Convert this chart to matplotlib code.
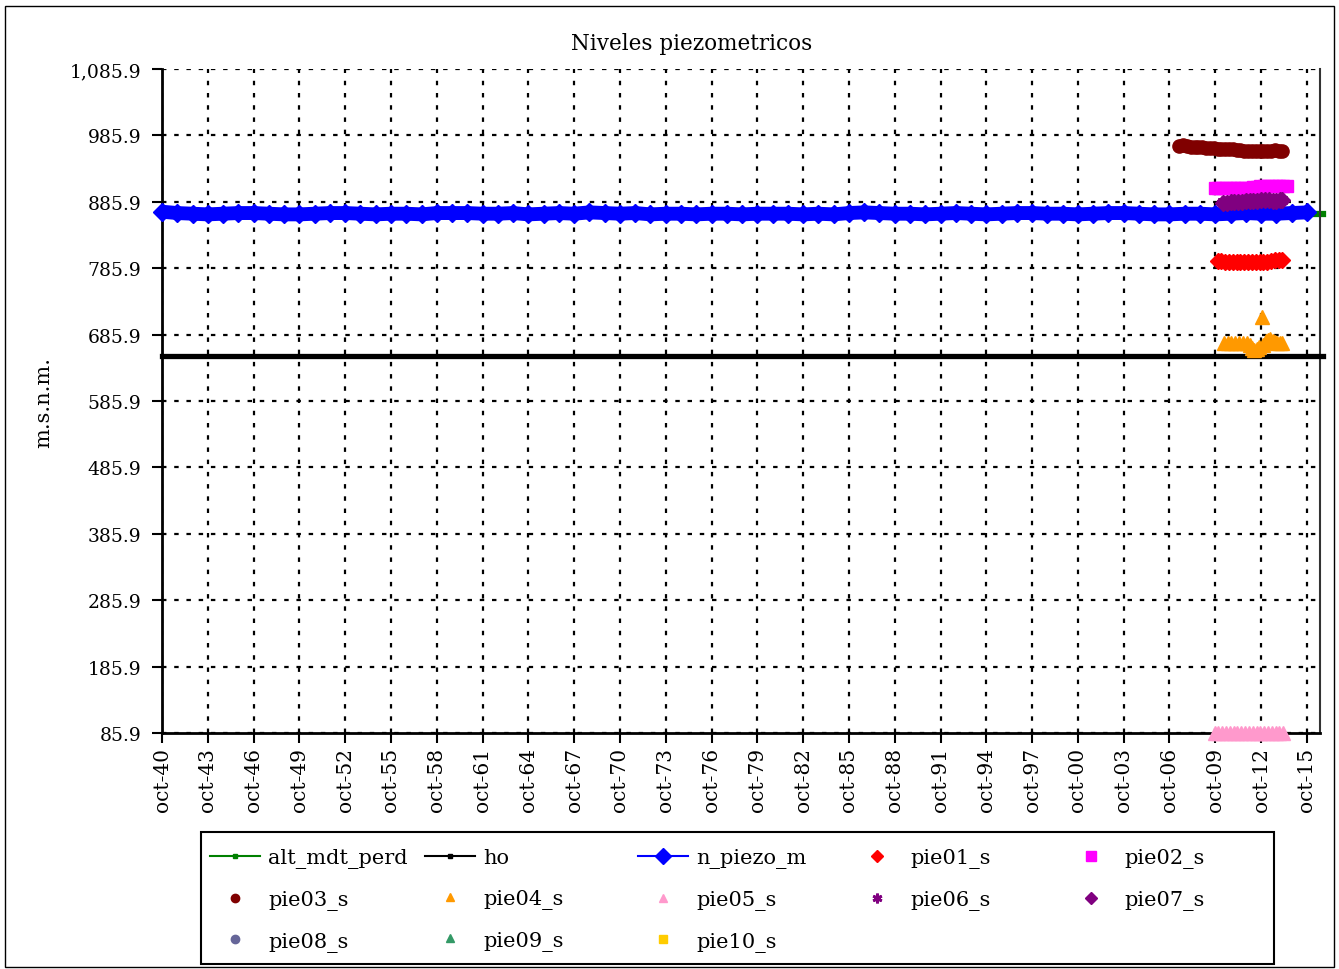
import numpy as np
import matplotlib
matplotlib.use("Agg")
import matplotlib.pyplot as plt
from matplotlib.lines import Line2D
from matplotlib.patches import Rectangle
from matplotlib.ticker import FuncFormatter

plt.rcParams["font.family"] = ["DejaVu Serif"]

# ---- data (x in decimal years) ----
piezo_years = [1940.75 + i for i in range(76)]
n_piezo_m = [871, 869, 868, 867, 868, 869, 869, 868, 867, 867,
             868, 869, 869, 868, 867, 868, 868, 867, 869, 869,
             869, 868, 868, 869, 867, 868, 869, 868, 870, 869,
             868, 869, 867, 868, 868, 867, 868, 868, 867, 868,
             868, 868, 867, 868, 867, 869, 870, 869, 868, 868,
             867, 868, 869, 868, 867, 868, 869, 869, 868, 868,
             867, 868, 869, 869, 868, 867, 867, 868, 868, 867,
             868, 869, 868, 868, 869, 870]

alt_x = [1940.75, 2016.8]
alt_mdt_perd = [868, 868]

ho_x = [1940.75, 2016.8]
ho = [654, 654]

pie03_x = [2007.4, 2007.65, 2007.9, 2008.15, 2008.4, 2008.65, 2008.9, 2009.15,
           2009.4, 2009.65, 2009.9, 2010.15, 2010.4, 2010.65, 2010.9, 2011.15,
           2011.4, 2011.65, 2011.9, 2012.15, 2012.4, 2012.65, 2012.9, 2013.15,
           2013.4, 2013.65, 2013.9, 2014.15]
pie03_s = [970, 971, 970, 969, 969, 968, 968, 967, 967, 967, 966, 966, 966, 965,
           965, 964, 964, 963, 963, 963, 963, 962, 963, 963, 963, 964, 963, 962]

pie02_x = [2009.7, 2009.95, 2010.2, 2010.45, 2010.7, 2010.95, 2011.2, 2011.45,
           2011.7, 2011.95, 2012.2, 2012.45, 2012.7, 2012.95, 2013.2, 2013.45,
           2013.7, 2013.95, 2014.2, 2014.45]
pie02_s = [907, 907, 907, 907, 907, 907, 907, 907, 907, 907,
           908, 908, 910, 910, 910, 910, 910, 910, 910, 910]

pie67_x = [2010.25, 2010.5, 2010.75, 2011.0, 2011.25, 2011.5, 2011.75, 2012.0,
           2012.25, 2012.5, 2012.75, 2013.0, 2013.25, 2013.5, 2013.75, 2014.0, 2014.15]
pie06_s = [885, 885, 886, 886, 887, 887, 888, 888, 888, 888, 888, 888, 888, 888, 888, 889, 889]
pie07_s = [884, 884, 885, 885, 886, 886, 887, 887, 887, 887, 888, 888, 888, 887, 887, 888, 888]

pie01_x = [2009.9, 2010.15, 2010.4, 2010.65, 2010.9, 2011.15, 2011.4, 2011.65, 2011.9,
           2012.15, 2012.4, 2012.65, 2012.9, 2013.15, 2013.4, 2013.65, 2013.9, 2014.15]
pie01_s = [797, 797, 796, 795, 795, 795, 795, 795, 795,
           795, 795, 795, 796, 796, 797, 798, 798, 798]

pie04_x = [2010.3, 2010.55, 2010.8, 2011.05, 2011.3, 2011.55, 2011.8, 2012.0, 2012.15,
           2012.3, 2012.45, 2012.6, 2012.8, 2012.9, 2013.05, 2013.2, 2013.35, 2013.5,
           2013.65, 2013.8, 2014.0, 2014.15]
pie04_s = [674, 674, 674, 674, 674, 674, 673, 670, 666, 662, 664, 667, 712, 671,
           676, 678, 679, 676, 675, 674, 674, 674]

pie05_x = [2009.7, 2009.95, 2010.2, 2010.45, 2010.7, 2010.95, 2011.2, 2011.45, 2011.7,
           2011.95, 2012.2, 2012.45, 2012.7, 2012.95, 2013.2, 2013.45, 2013.7, 2013.95, 2014.2]
pie05_s = [86, 86, 86, 86, 86, 86, 86, 86, 86, 86, 86, 86, 86, 86, 86, 86, 86, 86, 86]

y_ticks = [85.9 + 100 * i for i in range(11)]
x_ticks = [1940.75 + 3 * i for i in range(26)]
x_labels = ["oct-%02d" % ((1940 + 3 * i) % 100) for i in range(26)]

# ---- figure ----
fig = plt.figure(figsize=(13.39, 9.70), dpi=100)
ax = fig.add_axes([0.121, 0.2433, 0.8647, 0.6845])

ax.plot(alt_x, alt_mdt_perd, color="#008000", lw=4.5, zorder=2, clip_on=False)
ax.plot(ho_x, ho, color="black", lw=3.8, zorder=3, clip_on=False)
ax.plot(piezo_years, n_piezo_m, color="#0000FF", lw=10, marker="D", ms=9,
        solid_capstyle="butt", zorder=4, clip_on=False)

ax.plot(pie03_x, pie03_s, ls="none", marker="o", ms=9.5, color="#800000", zorder=5)
ax.plot(pie02_x, pie02_s, ls="none", marker="s", ms=9, color="#FF00FF", zorder=5)
ax.plot(pie67_x, pie07_s, ls="none", marker="D", ms=8, color="#800080", zorder=5)
ax.plot(pie67_x, pie06_s, ls="none", marker=(6, 2, 0), ms=9, mew=2.5, color="#800080", zorder=5)
ax.plot(pie01_x, pie01_s, ls="none", marker="D", ms=8.5, color="#FF0000", zorder=5)
ax.plot(pie04_x, pie04_s, ls="none", marker="^", ms=10, color="#FF9900", zorder=6, clip_on=False)
ax.plot(pie05_x, pie05_s, ls="none", marker="^", ms=10, color="#FF99CC", zorder=6, clip_on=False)

ax.set_xlim(1940.75, 2016.6)
ax.set_ylim(85.9, 1085.9)
ax.set_yticks(y_ticks)
ax.yaxis.set_major_formatter(FuncFormatter(lambda v, p: "{:,.1f}".format(v)))
ax.set_xticks(x_ticks)
ax.set_xticklabels(x_labels, rotation=90)
ax.tick_params(axis="both", direction="out", width=1.5, color="black")
ax.tick_params(axis="y", length=7, pad=8, labelsize=13.5)
ax.tick_params(axis="x", length=7, pad=3, labelsize=14.5)

ax.grid(True, color="black", lw=1.6, ls=(0, (2, 3.5)))
ax.set_axisbelow(True)
ax.spines["top"].set_visible(False)
ax.spines["left"].set_linewidth(2)
ax.spines["bottom"].set_linewidth(2)
ax.spines["right"].set_linewidth(1.5)
ax.spines["right"].set_color("#333333")

fig.text(692 / 1339, 1 - 44 / 970, "Niveles piezometricos", fontsize=15.5,
         ha="center", va="center")
ax.set_ylabel("m.s.n.m.", fontsize=15)
ax.yaxis.set_label_coords(-0.094, 0.5)

# ---- legend, one block per column ----
def lh(**kw):
    return Line2D([], [], **kw)

columns = [
    [(lh(color="#008000", lw=1.5, marker="s", ms=3), "alt_mdt_perd"),
     (lh(ls="none", marker="o", ms=6, color="#800000"), "pie03_s"),
     (lh(ls="none", marker="o", ms=6, color="#666699"), "pie08_s")],
    [(lh(color="black", lw=1.5, marker="s", ms=3), "ho"),
     (lh(ls="none", marker="^", ms=6, color="#FF9900"), "pie04_s"),
     (lh(ls="none", marker="^", ms=6, color="#339966"), "pie09_s")],
    [(lh(color="#0000FF", lw=1.5, marker="D", ms=8), "n_piezo_m"),
     (lh(ls="none", marker="^", ms=6, color="#FF99CC"), "pie05_s"),
     (lh(ls="none", marker="s", ms=6, color="#FFCC00"), "pie10_s")],
    [(lh(ls="none", marker="D", ms=6, color="#FF0000"), "pie01_s"),
     (lh(ls="none", marker=(6, 2, 0), ms=7, mew=2, color="#800080"), "pie06_s")],
    [(lh(ls="none", marker="s", ms=7, color="#FF00FF"), "pie02_s"),
     (lh(ls="none", marker="D", ms=6, color="#800080"), "pie07_s")],
]
col_left = [210, 425, 638, 852, 1066]
for xl, col in zip(col_left, columns):
    fig.legend([h for h, _ in col], [t for _, t in col],
               loc="upper left", bbox_to_anchor=(xl / 1339, 1 - 849 / 970),
               frameon=False, fontsize=15, handlelength=2.4,
               handletextpad=0.4, labelspacing=1.05, borderpad=0,
               borderaxespad=0)

fig.patches.append(Rectangle((201 / 1339, 1 - 965 / 970), 1073 / 1339, 132 / 970,
                             transform=fig.transFigure, fill=False,
                             ec="black", lw=1.5))
fig.patches.append(Rectangle((5 / 1339, 2 / 970), 1329 / 1339, 961 / 970,
                             transform=fig.transFigure, fill=False,
                             ec="black", lw=1))

fig.savefig("out.png", dpi=100)
